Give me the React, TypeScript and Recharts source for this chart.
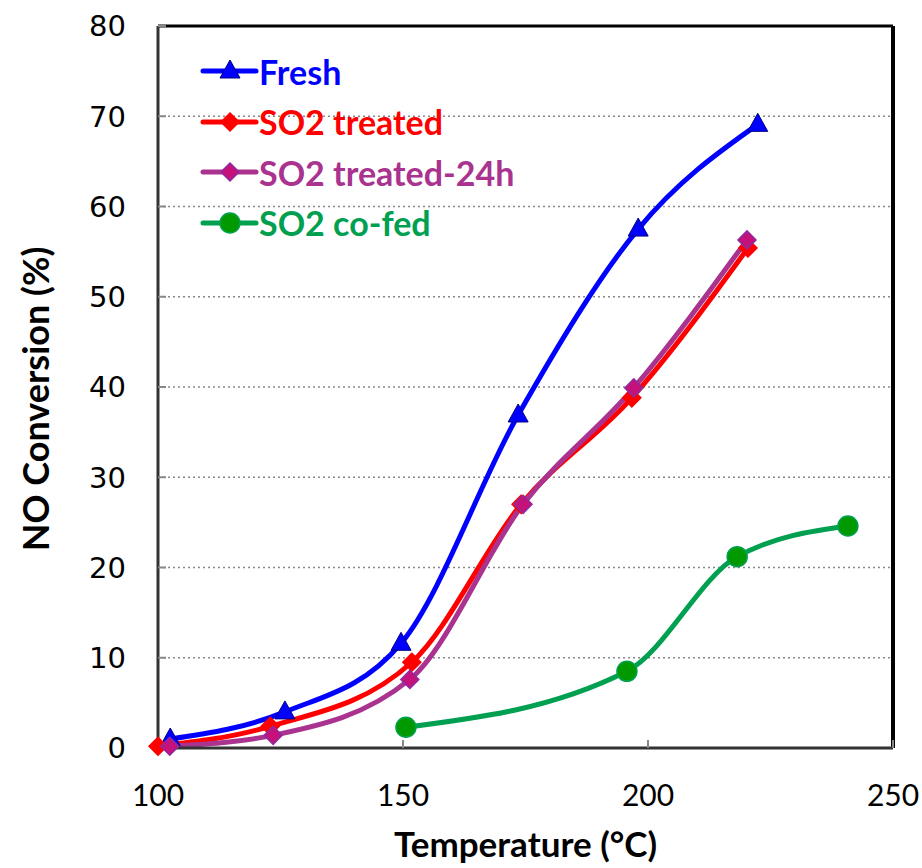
import {
  LineChart,
  Line,
  XAxis,
  YAxis,
  CartesianGrid,
  ReferenceLine,
  Legend,
} from 'recharts';

// temperature (°C) / NO conversion (%)
const freshTemp = [102.5, 125.9, 149.6, 173.5, 198.0, 222.4];
const freshConv = [1.0, 4.0, 11.6, 36.9, 57.5, 69.1];

const treatedTemp = [100.0, 122.9, 151.8, 174.1, 196.7, 220.4];
const treatedConv = [0.2, 2.4, 9.5, 27.0, 38.8, 55.4];

const treated24Temp = [102.4, 123.5, 151.4, 174.5, 197.1, 220.2];
const treated24Conv = [0.2, 1.4, 7.6, 27.0, 39.9, 56.3];

const cofedTemp = [150.6, 195.7, 218.2, 240.8];
const cofedConv = [2.3, 8.5, 21.2, 24.6];

const xTicks = [100, 150, 200, 250];
const yTicks = [0, 10, 20, 30, 40, 50, 60, 70, 80];

const toPoints = (xs: number[], ys: number[]) =>
  xs.map((x, i) => ({ x, y: ys[i] }));

const freshData = toPoints(freshTemp, freshConv);
const treatedData = toPoints(treatedTemp, treatedConv);
const treated24Data = toPoints(treated24Temp, treated24Conv);
const cofedData = toPoints(cofedTemp, cofedConv);

const BLUE = '#0000FF';
const RED = '#FF0000';
const PURPLE = '#A9338F';
const GREEN = '#00A050';

const Triangle = ({ cx, cy }: any) => (
  <polygon
    points={`${cx},${cy - 11} ${cx - 10},${cy + 7} ${cx + 10},${cy + 7}`}
    fill={BLUE}
    stroke="#000080"
    strokeWidth={1}
  />
);

const makeDiamond =
  (fill: string, stroke: string) =>
  ({ cx, cy }: any) =>
    (
      <polygon
        points={`${cx},${cy - 9} ${cx + 9},${cy} ${cx},${cy + 9} ${cx - 9},${cy}`}
        fill={fill}
        stroke={stroke}
        strokeWidth={1.5}
      />
    );

const RedDiamond = makeDiamond(RED, RED);
const PurpleDiamond = makeDiamond('#C4127A', '#8E2AA0');

const Circle = ({ cx, cy }: any) => (
  <circle cx={cx} cy={cy} r={10} fill="#009900" stroke={GREEN} strokeWidth={1.5} />
);

const legendItems = [
  { name: 'Fresh', color: BLUE, Marker: Triangle },
  { name: 'SO2 treated', color: RED, Marker: RedDiamond },
  { name: 'SO2 treated-24h', color: PURPLE, Marker: PurpleDiamond },
  { name: 'SO2 co-fed', color: GREEN, Marker: Circle },
];

const LegendBox = () => (
  <div>
    {legendItems.map(({ name, color, Marker }) => (
      <div
        key={name}
        style={{ display: 'flex', alignItems: 'center', height: 50.5 }}
      >
        <svg width={60} height={30}>
          <line x1={3} y1={15} x2={56} y2={15} stroke={color} strokeWidth={5} strokeLinecap="round" />
          <Marker cx={30} cy={15} />
        </svg>
        <span
          style={{
            color,
            fontFamily: 'Lato',
            fontWeight: 700,
            fontSize: 34,
            marginLeft: -1,
          }}
        >
          {name}
        </span>
      </div>
    ))}
  </div>
);

const YTitle = ({ viewBox }: any) => {
  const cx = 35;
  const cy = viewBox.y + viewBox.height / 2 + 12;
  return (
    <text
      x={cx}
      y={cy}
      transform={`rotate(-90 ${cx} ${cy})`}
      textAnchor="middle"
      dominantBaseline="central"
      fontFamily="Lato"
      fontWeight={700}
      fontSize={36}
      fill="#000"
    >
      NO Conversion (%)
    </text>
  );
};

const XTitle = ({ viewBox }: any) => (
  <text
    x={viewBox.x + viewBox.width / 2}
    y={857}
    textAnchor="middle"
    fontFamily="Lato"
    fontWeight={700}
    fontSize={35}
    fill="#000"
  >
    Temperature (°C)
  </text>
);

const App = () => {
  return (
    <div style={{ position: 'absolute', left: 0, top: 0, background: '#fff' }}>
      <LineChart
        width={922}
        height={868}
        margin={{ top: 26, right: 29, bottom: 0, left: 0 }}
      >
        <CartesianGrid
          vertical={false}
          stroke="#888"
          strokeDasharray="2 3"
          strokeWidth={1.5}
        />
        <XAxis
          type="number"
          dataKey="x"
          domain={[100, 250]}
          ticks={xTicks}
          height={120}
          stroke="#333"
          strokeWidth={3}
          tickSize={-8}
          tickMargin={45}
          tickLine={{ stroke: '#888', strokeWidth: 2 }}
          tick={{ fontSize: 30, fontFamily: 'Lato', fill: '#000' }}
          label={<XTitle />}
        />
        <YAxis
          type="number"
          domain={[0, 80]}
          ticks={yTicks}
          width={158}
          stroke="#333"
          strokeWidth={3}
          tickSize={-8}
          tickMargin={40}
          tickLine={{ stroke: '#888', strokeWidth: 2 }}
          tick={{ fontSize: 29, fontFamily: 'DejaVu Sans', fill: '#000' }}
          label={<YTitle />}
        />
        <ReferenceLine y={80} stroke="#000" strokeWidth={3} />
        <ReferenceLine x={250} stroke="#000" strokeWidth={4} />
        <Legend
          layout="vertical"
          verticalAlign="middle"
          align="center"
          content={<LegendBox />}
          wrapperStyle={{ top: 46, left: 200, width: 360 }}
        />
        <Line
          data={freshData}
          dataKey="y"
          name="Fresh"
          type="monotone"
          stroke={BLUE}
          strokeWidth={5}
          dot={<Triangle />}
          activeDot={false}
          isAnimationActive={false}
        />
        <Line
          data={treatedData}
          dataKey="y"
          name="SO2 treated"
          type="monotone"
          stroke={RED}
          strokeWidth={5}
          dot={<RedDiamond />}
          activeDot={false}
          isAnimationActive={false}
        />
        <Line
          data={treated24Data}
          dataKey="y"
          name="SO2 treated-24h"
          type="monotone"
          stroke={PURPLE}
          strokeWidth={5}
          dot={<PurpleDiamond />}
          activeDot={false}
          isAnimationActive={false}
        />
        <Line
          data={cofedData}
          dataKey="y"
          name="SO2 co-fed"
          type="monotone"
          stroke={GREEN}
          strokeWidth={5}
          dot={<Circle />}
          activeDot={false}
          isAnimationActive={false}
        />
      </LineChart>
    </div>
  );
};

export default App;
